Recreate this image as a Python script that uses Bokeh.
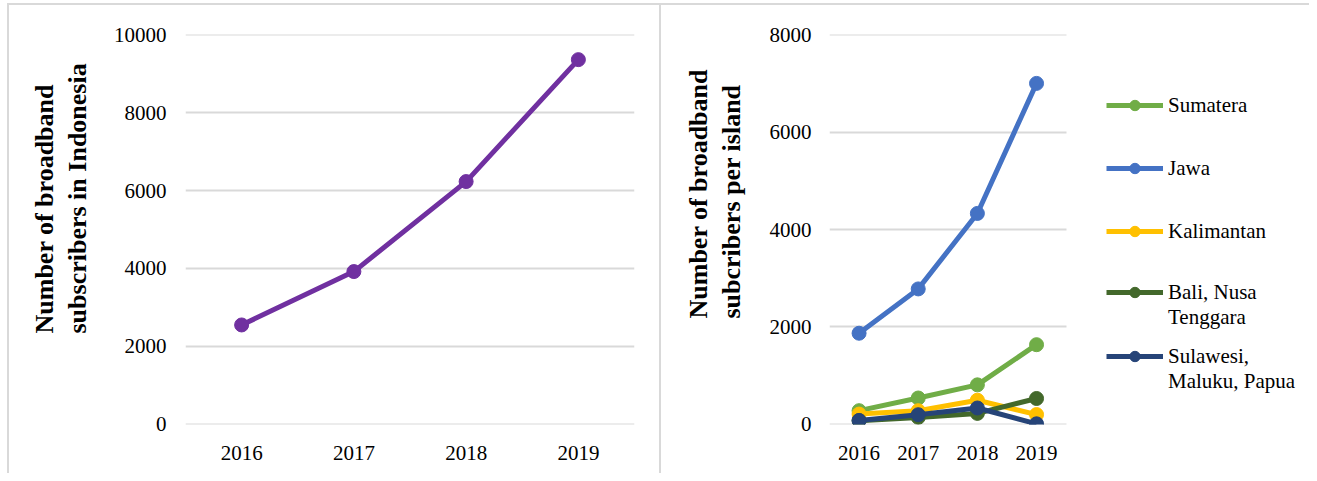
from bokeh.plotting import figure
from bokeh.models import FactorRange, Range1d, FixedTicker, Title, Legend, LegendItem
from bokeh.layouts import row
from bokeh.embed import file_html
from bokeh.resources import INLINE

# ---------------- data ----------------
years = ["2016", "2017", "2018", "2019"]
indonesia_total = [2550, 3920, 6230, 9360]
left_yticks = [0, 2000, 4000, 6000, 8000, 10000]

island_names = ["Sumatera", "Jawa", "Kalimantan", "Bali, Nusa\nTenggara", "Sulawesi,\nMaluku, Papua"]
sumatera = [280, 540, 810, 1635]
jawa = [1870, 2780, 4330, 7000]
kalimantan = [210, 280, 495, 200]
bali_nusa_tenggara = [75, 142, 224, 530]
sulawesi_maluku_papua = [80, 197, 335, 10]
right_yticks = [0, 2000, 4000, 6000, 8000]
island_colors = ["#70ad47", "#4472c4", "#ffc000", "#43682b", "#264478"]

left_title = "Number of broadband\nsubscribers in Indonesia"
right_title = "Number of broadband\nsubcribers per island"

FONT = "Liberation Serif"
GRID = "#d9d9d9"
BORDER = "2px solid #d9d9d9"


def style(p, yticks, ystandoff):
    p.outline_line_color = None
    p.xgrid.grid_line_color = None
    p.ygrid.grid_line_color = GRID
    p.ygrid.grid_line_width = 2
    p.yaxis.ticker = FixedTicker(ticks=yticks)
    for ax in (p.xaxis[0], p.yaxis[0]):
        ax.axis_line_color = None
        ax.major_tick_line_color = None
        ax.minor_tick_line_color = None
        ax.major_label_text_font = FONT
        ax.major_label_text_font_size = "21px"
        ax.major_label_text_color = "#000000"
    p.xaxis.major_label_standoff = 15
    p.yaxis.major_label_standoff = ystandoff


def add_title(p, text, offset, standoff):
    p.add_layout(Title(text=text, align="left", offset=offset, standoff=standoff,
                       text_font=FONT, text_font_style="bold", text_font_size="26px",
                       text_line_height=1.13, text_color="#000000"), "left")


def make_legend(items, label_height, spacing, y, line_height):
    return Legend(items=items, location=(277, y), glyph_width=57, glyph_height=26,
                  label_height=label_height, spacing=spacing, label_standoff=5,
                  padding=0, margin=0, border_line_color=None, background_fill_alpha=0,
                  label_text_font=FONT, label_text_font_size="21px",
                  label_text_line_height=line_height, label_text_color="#000000")


# ---------------- left chart ----------------
left = figure(width=654, height=470, x_range=FactorRange(*years), y_range=Range1d(-5, 10005),
              output_backend="svg", toolbar_location=None,
              min_border_left=174, min_border_right=29, min_border_top=29, min_border_bottom=51)
style(left, left_yticks, 13)
left.line(years, indonesia_total, line_color="#7030a0", line_width=5)
left.scatter(years, indonesia_total, size=14, fill_color="#7030a0", line_color="#7030a0")
add_title(left, left_title, 91, 37)
left.margin = (3, 0, 0, 7)
left.styles = {"border-left": BORDER, "border-top": BORDER, "border-right": BORDER}

# ---------------- right chart ----------------
# numeric x positions for the years; the plot area also holds the legend on its right
x_pos = list(range(len(years)))
right = figure(width=648, height=470, x_range=Range1d(-0.5, 7.53), y_range=Range1d(-4, 8004),
               output_backend="svg", toolbar_location=None,
               min_border_left=163, min_border_right=5, min_border_top=29, min_border_bottom=48)
style(right, right_yticks, 12)
right.xaxis.ticker = FixedTicker(ticks=x_pos)
right.xaxis.major_label_overrides = {i: y for i, y in zip(x_pos, years)}
try:
    right.ygrid.cross_bounds = (-0.5, len(years) - 0.5)
except AttributeError:
    right.ygrid.visible = False
    right.segment(x0=[-0.5] * len(right_yticks), x1=[len(years) - 0.5] * len(right_yticks),
                  y0=right_yticks, y1=right_yticks, line_color=GRID, line_width=2)

series = [sumatera, jawa, kalimantan, bali_nusa_tenggara, sulawesi_maluku_papua]
items = []
for name, vals, col in zip(island_names, series, island_colors):
    lr = right.line(x_pos, vals, line_color=col, line_width=5)
    sr = right.scatter(x_pos, vals, size=14, fill_color=col, line_color=col)
    # two-line names: a leading empty line keeps the marker level with the first line
    label = "\n" + name if "\n" in name else name
    items.append(LegendItem(label=label, renderers=[lr, sr]))
add_title(right, right_title, 106, 41)

# single-line entries in one block, each two-line entry in its own block
right.add_layout(make_legend(items[:3], 52, 11, 167, 1.24))
right.add_layout(make_legend(items[3:4], 80, 0, 92, 1.34))
right.add_layout(make_legend(items[4:5], 80, 0, 28, 1.34))
right.margin = (3, 0, 0, 0)
right.styles = {"border-top": BORDER}

layout = row(left, right)
open("out.html", "w").write(file_html(layout, INLINE))
